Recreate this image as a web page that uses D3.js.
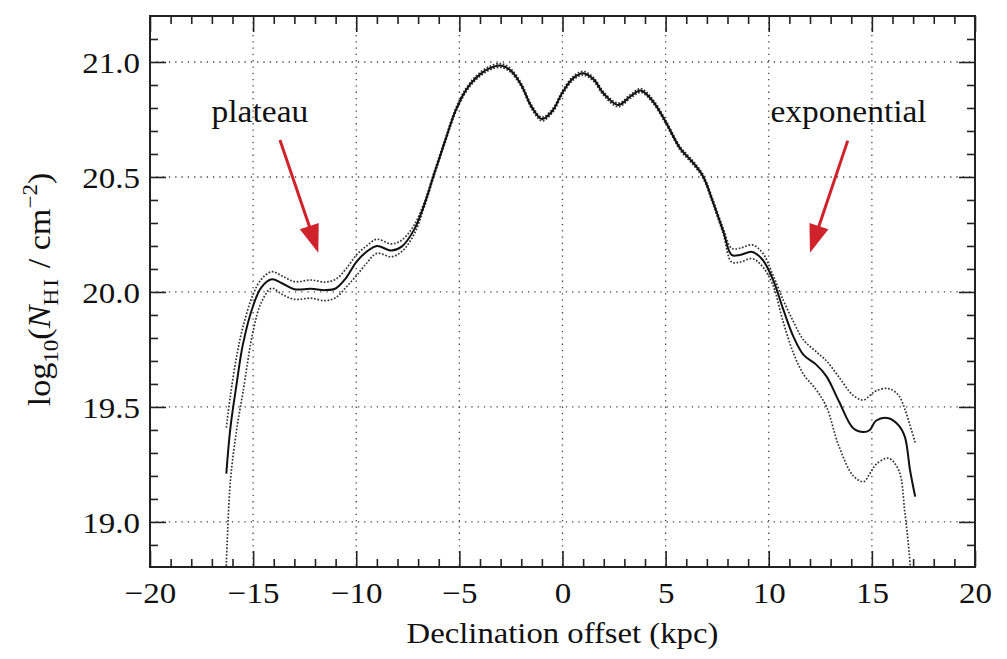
<!DOCTYPE html>
<html>
<head>
<meta charset="utf-8">
<script src="https://cdn.jsdelivr.net/npm/d3@7"></script>
<style>
  body { margin: 0; background: #fff; }
  text { font-family: "Liberation Serif", "Times New Roman", serif; fill: #111; }
</style>
</head>
<body>
<svg id="chart" width="1007" height="659"></svg>
<script>
// Declination offset (kpc) sampled along the HI column-density profile
const offsetKpc = [-16.35, -16.3, -16.1, -15.8, -15.5, -15.0, -14.6, -14.1, -13.6, -13.0, -12.2, -11.5, -11.0,
  -10.5, -10.0, -9.5, -9.0, -8.3, -7.8, -7.2, -6.7, -6.2, -5.7, -5.2, -4.7, -4.2, -3.6, -3.0, -2.5,
  -2.0, -1.5, -1.0, -0.5, 0.0, 0.5, 1.0, 1.5, 2.0, 2.7, 3.3, 3.8, 4.4, 5.0, 5.7, 6.3, 6.8, 7.3,
  7.8, 8.2, 8.6, 9.2, 9.7, 10.2, 10.7, 11.2, 11.7, 12.3, 12.8, 13.4, 14.1, 14.6, 14.9, 15.2, 15.8,
  16.3, 16.6, 16.85, 17.1];

// log10(N_HI) profile
const logN = [null, 19.21, 19.41, 19.60, 19.77, 19.94, 20.02, 20.055, 20.038, 20.012, 20.014, 20.008, 20.015,
  20.06, 20.13, 20.175, 20.20, 20.18, 20.197, 20.27, 20.38, 20.52, 20.655, 20.785, 20.875, 20.93, 20.97, 20.985, 20.962,
  20.90, 20.805, 20.752, 20.786, 20.867, 20.928, 20.951, 20.925, 20.862, 20.813, 20.851, 20.876, 20.827, 20.74, 20.625, 20.565, 20.505, 20.39,
  20.262, 20.161, 20.161, 20.174, 20.14, 20.055, 19.925, 19.805, 19.725, 19.684, 19.633, 19.525, 19.407, 19.391, 19.40, 19.44, 19.451,
  19.42, 19.37, 19.226, 19.11];

// upper uncertainty envelope
const logNUpper = [null, 19.41, 19.55, 19.72, 19.845, 19.99, 20.055, 20.088, 20.07, 20.045, 20.052, 20.043, 20.055,
  20.10, 20.16, 20.20, 20.229, 20.209, 20.225, 20.29, 20.39, 20.528, 20.663, 20.793, 20.883, 20.938, 20.978, 20.993, 20.970,
  20.908, 20.813, 20.760, 20.794, 20.875, 20.936, 20.959, 20.933, 20.870, 20.821, 20.859, 20.884, 20.835, 20.748, 20.633, 20.573, 20.513, 20.40,
  20.275, 20.19, 20.19, 20.205, 20.17, 20.075, 19.965, 19.87, 19.79, 19.74, 19.70, 19.63, 19.55, 19.53, 19.55, 19.57, 19.58,
  19.55, 19.49, 19.42, 19.345];

// lower uncertainty envelope
const logNLower = [18.72, 18.82, 19.18, 19.40, 19.56, 19.83, 19.955, 20.016, 19.99, 19.968, 19.973, 19.962, 19.975,
  20.02, 20.07, 20.125, 20.168, 20.153, 20.175, 20.25, 20.37, 20.512, 20.647, 20.777, 20.867, 20.922, 20.962, 20.977, 20.954,
  20.892, 20.797, 20.744, 20.778, 20.859, 20.920, 20.943, 20.917, 20.854, 20.805, 20.843, 20.868, 20.819, 20.732, 20.617, 20.557, 20.497, 20.38,
  20.25, 20.13, 20.13, 20.145, 20.11, 20.03, 19.87, 19.733, 19.64, 19.575, 19.50, 19.33, 19.20, 19.175, 19.21, 19.25, 19.277,
  19.225, 19.04, 18.82, 18.40];

const xMajorTicks = [-20, -15, -10, -5, 0, 5, 10, 15, 20];
const yMajorTicks = [19.0, 19.5, 20.0, 20.5, 21.0];

const annotations = [
  { label: "plateau", textAt: [-14.67, 20.739], tail: [-13.70, 20.661], tip: [-11.84, 20.171] },
  { label: "exponential", textAt: [13.87, 20.739], tail: [13.83, 20.658], tip: [12.00, 20.171] }
];

const svg = d3.select("#chart");
const mLeft = 150, mRight = 975, mTop = 16, mBottom = 567;

const x = d3.scaleLinear().domain([-20, 20]).range([mLeft, mRight]);
const y = d3.scaleLinear().domain([18.804, 21.2]).range([mBottom, mTop]);

const xMinor = d3.range(-20, 20.001, 1).filter(v => !xMajorTicks.includes(v));
const yMinor = d3.range(18.9, 21.15, 0.1).map(v => +v.toFixed(1)).filter(v => !yMajorTicks.includes(v));

// widen glyphs a little: the typeface used here is narrower than a book serif
function widen(sel, k) {
  sel.each(function () {
    const w = this.getComputedTextLength();
    d3.select(this).attr("textLength", w * k).attr("lengthAdjust", "spacingAndGlyphs");
  });
}

// dotted grid at interior major ticks
const grid = svg.append("g").attr("stroke", "#444").attr("stroke-width", 1.3)
  .attr("stroke-dasharray", "1.3,5");
xMajorTicks.slice(1, -1).forEach(v => {
  grid.append("line").attr("x1", x(v)).attr("x2", x(v)).attr("y1", mTop).attr("y2", mBottom);
});
yMajorTicks.forEach(v => {
  grid.append("line").attr("y1", y(v)).attr("y2", y(v)).attr("x1", mLeft).attr("x2", mRight);
});

// inward ticks on all four sides
function styleAxis(g) {
  g.select(".domain").remove();
  g.selectAll(".tick line").attr("stroke", "#222").attr("stroke-width", 1.6);
}
const plotH = mBottom - mTop, plotW = mRight - mLeft;
svg.append("g").attr("transform", `translate(0,${mBottom})`)
  .call(d3.axisBottom(x).tickValues(xMinor).tickSize(-8).tickFormat("")).call(styleAxis);
svg.append("g").attr("transform", `translate(0,${mBottom})`)
  .call(d3.axisBottom(x).tickValues(xMajorTicks).tickSize(-16).tickFormat(d3.format("d")))
  .call(styleAxis)
  .call(g => g.selectAll(".tick text").attr("y", 15).attr("dy", "0.71em").attr("font-size", 30)
    .style("font-family", "'Liberation Serif', serif").attr("fill", "#111").call(widen, 1.1));
svg.append("g").attr("transform", `translate(0,${mTop})`)
  .call(d3.axisTop(x).tickValues(xMinor).tickSize(-8).tickFormat("")).call(styleAxis);
svg.append("g").attr("transform", `translate(0,${mTop})`)
  .call(d3.axisTop(x).tickValues(xMajorTicks).tickSize(-16).tickFormat("")).call(styleAxis);
svg.append("g").attr("transform", `translate(${mLeft},0)`)
  .call(d3.axisLeft(y).tickValues(yMinor).tickSize(-8).tickFormat("")).call(styleAxis);
svg.append("g").attr("transform", `translate(${mLeft},0)`)
  .call(d3.axisLeft(y).tickValues(yMajorTicks).tickSize(-16).tickFormat(d3.format(".1f")))
  .call(styleAxis)
  .call(g => g.selectAll(".tick text").attr("x", -10).attr("dy", "0.35em").attr("font-size", 30)
    .style("font-family", "'Liberation Serif', serif").attr("fill", "#111").call(widen, 1.1));
svg.append("g").attr("transform", `translate(${mRight},0)`)
  .call(d3.axisRight(y).tickValues(yMinor).tickSize(-8).tickFormat("")).call(styleAxis);
svg.append("g").attr("transform", `translate(${mRight},0)`)
  .call(d3.axisRight(y).tickValues(yMajorTicks).tickSize(-16).tickFormat("")).call(styleAxis);

// curves
svg.append("clipPath").attr("id", "plotClip").append("rect")
  .attr("x", mLeft).attr("y", mTop).attr("width", plotW).attr("height", plotH);

function series(vals) { return offsetKpc.map((o, i) => [o, vals[i]]); }
const line = d3.line().defined(d => d[1] != null).x(d => x(d[0])).y(d => y(d[1]))
  .curve(d3.curveCatmullRom.alpha(0.5));

const curves = svg.append("g").attr("clip-path", "url(#plotClip)").attr("fill", "none");
[logNUpper, logNLower].forEach(vals => {
  curves.append("path").attr("d", line(series(vals)))
    .attr("stroke", "#333").attr("stroke-width", 1.7).attr("stroke-dasharray", "1.7,1.7");
});
curves.append("path").attr("d", line(series(logN)))
  .attr("stroke", "#111").attr("stroke-width", 2);

// frame
svg.append("rect").attr("x", mLeft).attr("y", mTop).attr("width", plotW).attr("height", plotH)
  .attr("fill", "none").attr("stroke", "#222").attr("stroke-width", 2);

// annotations with red arrows
const red = "#d0222b";
annotations.forEach(a => {
  svg.append("text").attr("x", x(a.textAt[0])).attr("y", y(a.textAt[1]))
    .attr("text-anchor", "middle").attr("font-size", 31).text(a.label).call(widen, 1.08);
  const tx = x(a.tail[0]), ty = y(a.tail[1]), hx = x(a.tip[0]), hy = y(a.tip[1]);
  const len = Math.hypot(hx - tx, hy - ty), ux = (hx - tx) / len, uy = (hy - ty) / len;
  const headL = 28, headW = 20;
  const bx = hx - ux * headL, by = hy - uy * headL;
  svg.append("line").attr("x1", tx).attr("y1", ty).attr("x2", bx + ux * 2).attr("y2", by + uy * 2)
    .attr("stroke", red).attr("stroke-width", 3);
  svg.append("path").attr("fill", red)
    .attr("d", `M${hx},${hy}L${bx - uy * headW / 2},${by + ux * headW / 2}L${bx + uy * headW / 2},${by - ux * headW / 2}Z`);
});

// axis titles
svg.append("text").attr("x", (mLeft + mRight) / 2).attr("y", 643).attr("text-anchor", "middle")
  .attr("font-size", 30).text("Declination offset (kpc)").call(widen, 1.09);

const yl = svg.append("text")
  .attr("transform", `translate(50,${(mTop + mBottom) / 2 - 2}) rotate(-90) scale(1.1,1)`)
  .attr("text-anchor", "middle").attr("font-size", 31);
yl.append("tspan").text("log");
yl.append("tspan").attr("font-size", 21).attr("dy", 8).text("10");
yl.append("tspan").attr("dy", -8).text("(");
yl.append("tspan").attr("font-style", "italic").text("N");
yl.append("tspan").attr("font-size", 21).attr("dy", 8).attr("letter-spacing", 2).text("HI");
yl.append("tspan").attr("dy", -8).text(" / cm");
yl.append("tspan").attr("font-size", 21).attr("dy", -13).text("\u22122");
yl.append("tspan").attr("dy", 13).text(")");
</script>
</body>
</html>
